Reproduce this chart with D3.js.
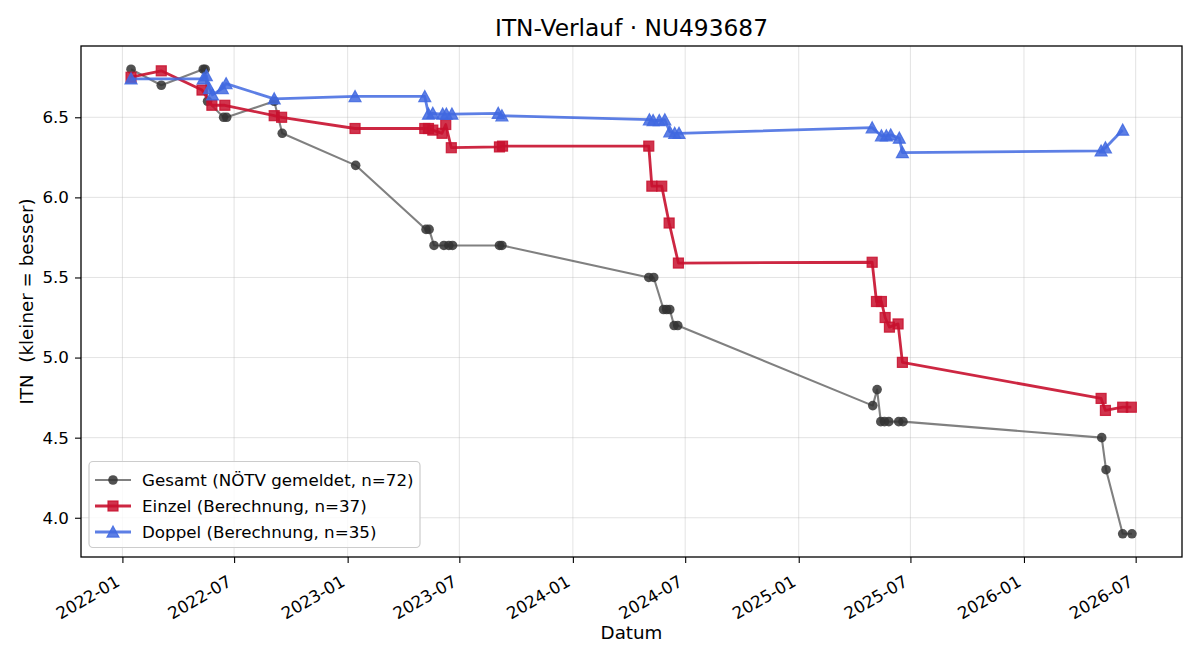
<!DOCTYPE html>
<html><head><meta charset="utf-8">
<script src="https://cdn.jsdelivr.net/npm/d3@7/dist/d3.min.js"></script>
<style>
body{margin:0;background:#fff;}
text{font-family:"DejaVu Sans",sans-serif;white-space:pre;}
</style></head>
<body><svg id="c" width="1200" height="660"></svg>
<script>
// ---- data ----
const gesamtDates = ["2022-01-15","2022-03-05","2022-05-12","2022-05-15","2022-05-19","2022-06-14","2022-06-19","2022-09-04","2022-09-17","2023-01-14","2023-05-08","2023-05-13","2023-05-21","2023-06-06","2023-06-14","2023-06-20","2023-09-04","2023-09-08","2024-05-03","2024-05-11","2024-05-27","2024-06-01","2024-06-06","2024-06-13","2024-06-19","2025-05-01","2025-05-08","2025-05-14","2025-05-20","2025-05-27","2025-06-12","2025-06-19","2026-05-07","2026-05-14","2026-06-10","2026-06-25"];
const gesamtValues = [6.8,6.7,6.8,6.8,6.6,6.5,6.5,6.6,6.4,6.2,5.8,5.8,5.7,5.7,5.7,5.7,5.7,5.7,5.5,5.5,5.3,5.3,5.3,5.2,5.2,4.7,4.8,4.6,4.6,4.6,4.6,4.6,4.5,4.3,3.9,3.9];

const einzelDates = ["2022-01-15","2022-03-05","2022-05-10","2022-05-26","2022-06-16","2022-09-04","2022-09-16","2023-01-13","2023-05-06","2023-05-12","2023-05-19","2023-06-03","2023-06-09","2023-06-18","2023-09-04","2023-09-09","2024-05-03","2024-05-08","2024-05-24","2024-06-05","2024-06-20","2025-04-30","2025-05-07","2025-05-15","2025-05-21","2025-05-28","2025-06-11","2025-06-18","2026-05-06","2026-05-13","2026-06-10","2026-06-24"];
const einzelValues = [6.75,6.79,6.67,6.575,6.575,6.51,6.50,6.43,6.43,6.43,6.42,6.40,6.455,6.31,6.315,6.32,6.32,6.07,6.07,5.84,5.59,5.595,5.35,5.35,5.25,5.19,5.21,4.97,4.745,4.67,4.69,4.69];

const doppelDates = ["2022-01-15","2022-05-12","2022-05-17","2022-05-22","2022-05-27","2022-06-12","2022-06-18","2022-09-04","2023-01-13","2023-05-06","2023-05-12","2023-05-19","2023-06-04","2023-06-10","2023-06-19","2023-09-02","2023-09-08","2024-05-04","2024-05-10","2024-05-20","2024-05-29","2024-06-06","2024-06-14","2024-06-21","2025-04-30","2025-05-15","2025-05-23","2025-05-30","2025-06-13","2025-06-18","2026-05-06","2026-05-13","2026-06-10"];
const doppelValues = [6.74,6.74,6.76,6.68,6.64,6.68,6.71,6.615,6.63,6.63,6.52,6.525,6.52,6.52,6.52,6.525,6.51,6.485,6.48,6.48,6.485,6.41,6.40,6.40,6.435,6.385,6.385,6.39,6.37,6.28,6.29,6.31,6.42];

const yTicks = [4.0,4.5,5.0,5.5,6.0,6.5];
const legendLabels = ["Gesamt (NÖTV gemeldet, n=72)","Einzel (Berechnung, n=37)","Doppel (Berechnung, n=35)"];
const titleText = "ITN-Verlauf · NU493687";
const xLabel = "Datum";
const yLabel = "ITN  (kleiner = besser)";

// ---- setup ----
const parse = d3.utcParse("%Y-%m-%d");
const mk = (ds, vs) => ds.map((d,i)=>({date:parse(d), v:vs[i]}));
const gesamt = mk(gesamtDates, gesamtValues);
const einzel = mk(einzelDates, einzelValues);
const doppel = mk(doppelDates, doppelValues);
const all = gesamt.concat(einzel, doppel);

const L=81, R=1182, T=46, B=557;
const svg = d3.select("#c");

const tExt = d3.extent(all, d=>+d.date);
const tPad = (tExt[1]-tExt[0])*0.05;
const x = d3.scaleUtc().domain([new Date(tExt[0]-tPad), new Date(tExt[1]+tPad)]).range([L,R]);
const vExt = d3.extent(all, d=>d.v);
const vPad = (vExt[1]-vExt[0])*0.05;
const y = d3.scaleLinear().domain([vExt[0]-vPad, vExt[1]+vPad]).range([B,T]);

const xTicks = d3.utcMonth.every(6).range(x.domain()[0], x.domain()[1]);

// grid
const grid = svg.append("g").attr("stroke","#b0b0b0").attr("stroke-opacity",0.35).attr("stroke-width",1);
xTicks.forEach(t=>grid.append("line").attr("x1",x(t)).attr("x2",x(t)).attr("y1",T).attr("y2",B));
yTicks.forEach(t=>grid.append("line").attr("x1",L).attr("x2",R).attr("y1",y(t)).attr("y2",y(t)));

// axes
const xAxis = svg.append("g").attr("transform",`translate(0,${B})`)
  .call(d3.axisBottom(x).tickValues(xTicks).tickFormat(d3.utcFormat("%Y-%m")).tickSizeOuter(0).tickSize(6).tickPadding(6));
xAxis.select(".domain").remove();
xAxis.selectAll("line").attr("stroke","#000").attr("stroke-width",1.1);
xAxis.selectAll("text").attr("font-size","16.7px").attr("fill","#000")
  .attr("text-anchor","end").attr("dy",null).attr("y",0)
  .attr("transform","translate(-2,28) rotate(-30)");

const yAxis = svg.append("g").attr("transform",`translate(${L},0)`)
  .call(d3.axisLeft(y).tickValues(yTicks).tickFormat(d3.format(".1f")).tickSizeOuter(0).tickSize(6).tickPadding(6));
yAxis.select(".domain").remove();
yAxis.selectAll("line").attr("stroke","#000").attr("stroke-width",1.1);
yAxis.selectAll("text").attr("font-size","16.7px").attr("fill","#000");

svg.append("rect").attr("x",L).attr("y",T).attr("width",R-L).attr("height",B-T)
  .attr("fill","none").attr("stroke","#000").attr("stroke-width",1.3);

// series
const line = d3.line().x(d=>x(d.date)).y(d=>y(d.v));
const plot = svg.append("g");

function drawSeries(data, color, lw, lineOpacity, marker, mColor, mOpacity){
  plot.append("path").datum(data).attr("d",line).attr("fill","none")
    .attr("stroke",color).attr("stroke-width",lw).attr("stroke-opacity",lineOpacity)
    .attr("stroke-linejoin","round");
  const g = plot.append("g");
  data.forEach(d=>drawMarker(g, x(d.date), y(d.v), marker, mColor, mOpacity));
}
function drawMarker(g, cx, cy, marker, col, op){
  if(marker==="circle"){
    g.append("circle").attr("cx",cx).attr("cy",cy).attr("r",4.8).attr("fill",col).attr("fill-opacity",op);
  } else if(marker==="square"){
    g.append("rect").attr("x",cx-5).attr("y",cy-5).attr("width",10).attr("height",10)
      .attr("fill",col).attr("fill-opacity",op).attr("stroke",col).attr("stroke-opacity",op).attr("stroke-width",1.2);
  } else {
    const s=6;
    g.append("path").attr("d",`M${cx},${cy-s}L${cx+s},${cy+s*0.85}L${cx-s},${cy+s*0.85}Z`)
      .attr("fill",col).attr("fill-opacity",op).attr("stroke",col).attr("stroke-opacity",op).attr("stroke-width",1.2);
  }
}
drawSeries(gesamt, "#555555", 2.1, 0.75, "circle", "#333333", 0.85);
drawSeries(einzel, "#c8102e", 2.8, 0.9, "square", "#c8102e", 0.85);
drawSeries(doppel, "#4169e1", 2.8, 0.85, "triangle", "#4169e1", 0.85);

// title & labels
svg.append("text").attr("x",(L+R)/2).attr("y",36).attr("text-anchor","middle").attr("font-size","23.3px").text(titleText);
svg.append("text").attr("x",(L+R)/2).attr("y",639).attr("text-anchor","middle").attr("font-size","18.3px").text(xLabel);
svg.append("text").attr("transform",`translate(33,${(T+B)/2}) rotate(-90)`).attr("text-anchor","middle").attr("font-size","18.3px").text(yLabel);

// legend
const lg = svg.append("g");
lg.append("rect").attr("x",89).attr("y",461.5).attr("width",331).attr("height",86).attr("rx",4)
  .attr("fill","#fff").attr("fill-opacity",0.8).attr("stroke","#cccccc").attr("stroke-width",1.2);
const legendStyles = [
  {c:"#555555", lw:2.1, lo:0.75, m:"circle", mc:"#333333"},
  {c:"#c8102e", lw:2.8, lo:0.9, m:"square", mc:"#c8102e"},
  {c:"#4169e1", lw:2.8, lo:0.85, m:"triangle", mc:"#4169e1"}
];
legendLabels.forEach((lab,i)=>{
  const yy = 480 + i*26;
  const st = legendStyles[i];
  lg.append("line").attr("x1",95).attr("x2",131).attr("y1",yy).attr("y2",yy)
    .attr("stroke",st.c).attr("stroke-width",st.lw).attr("stroke-opacity",st.lo);
  drawMarker(lg, 113, yy, st.m, st.mc, 0.85);
  lg.append("text").attr("x",142).attr("y",yy).attr("dy","0.35em").attr("font-size","16.7px").text(lab);
});
</script></body></html>
